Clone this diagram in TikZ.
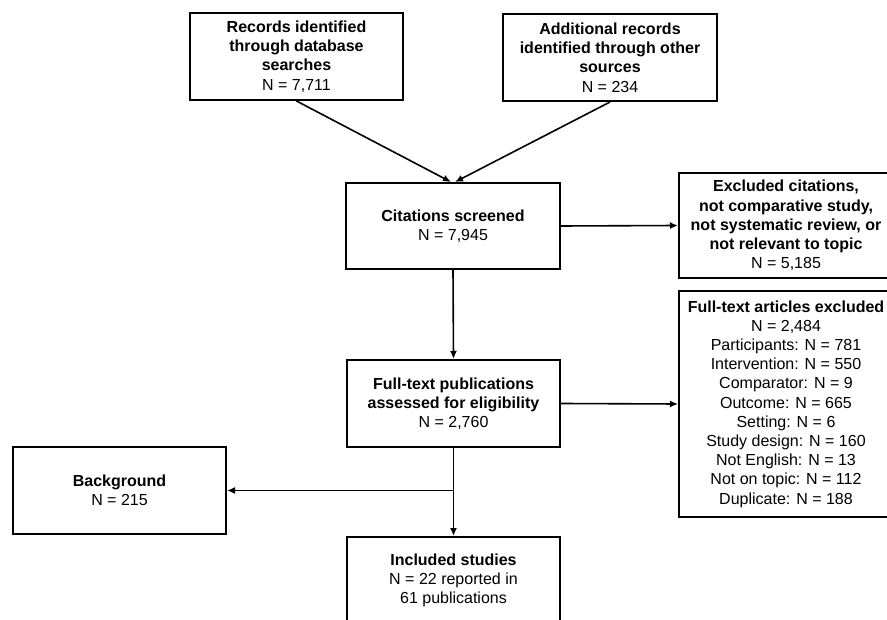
\documentclass[tikz,border=0pt]{standalone}
\usepackage{fontspec}
\setmainfont{Liberation Sans}
\usetikzlibrary{calc, arrows.meta, positioning}
\tikzset{
  flow/box/.style={draw, line width=2pt, align=center, minimum width=213pt, minimum height=87pt, inner sep=3pt, font=\fontsize{16}{19.2}\selectfont},
  flow/arrow/.style={-{Latex[length=8pt, width=7pt]}, line width=1.6pt},
  flow/line/.style={line width=1.6pt},
}

\begin{document}
\begin{tikzpicture}[x=1pt, y=-1pt]
  \useasboundingbox (0,0) rectangle (887,620);

  % Identificacao
  \node[flow/box] (rec) at (296.5,56.5) {\textbf{Records identified}\\\textbf{through database}\\\textbf{searches}\\N = 7,711};
  \node[flow/box, minimum width=214pt] (add) at (610,57.5) {\textbf{Additional records}\\\textbf{identified through other}\\\textbf{sources}\\N = 234};

  % Triagem
  \node[flow/box, minimum width=214pt, minimum height=86pt] (scr) at (453,226) {\textbf{Citations screened}\\N = 7,945};
  \node[flow/box, minimum width=214pt, minimum height=105pt] (excl) at (786,225.5) {\textbf{Excluded citations,}\\\textbf{not comparative study,}\\\textbf{not systematic review, or}\\\textbf{not relevant to topic}\\N = 5,185};

  % Elegibilidade
  \node[flow/box] (ft) at (453.5,403.5) {\textbf{Full-text publications}\\\textbf{assessed for eligibility}\\N = 2,760};
  \node[flow/box, minimum width=214pt, minimum height=226pt] (ftx) at (786,404) {\textbf{Full-text articles excluded}\\N = 2,484\\Participants: N = 781\\Intervention: N = 550\\Comparator: N = 9\\Outcome: N = 665\\Setting: N = 6\\Study design: N = 160\\Not English: N = 13\\Not on topic: N = 112\\Duplicate: N = 188};

  % Inclusao
  \node[flow/box] (bg) at (119.5,490.5) {\textbf{Background}\\N = 215};
  \node[flow/box] (inc) at (453.5,580.5) {\textbf{Included studies}\\N = 22 reported in\\61 publications};

  \coordinate (split) at (ft.south |- bg.east);

  \draw[flow/arrow] (rec.south) -- ([xshift=-2pt]scr.north);
  \draw[flow/arrow] (add.south) -- ([xshift=2pt]scr.north);
  \draw[flow/arrow] (scr.east) -- (excl.west);
  \draw[flow/arrow] (scr.south) -- (ft.north);
  \draw[flow/arrow] (ft.east) -- (ftx.west);
  \draw[flow/line] (ft.south) -- (split);
  \draw[flow/arrow] (split) -- (bg.east);
  \draw[flow/arrow] (split) -- (inc.north);

\end{tikzpicture}
\end{document}
